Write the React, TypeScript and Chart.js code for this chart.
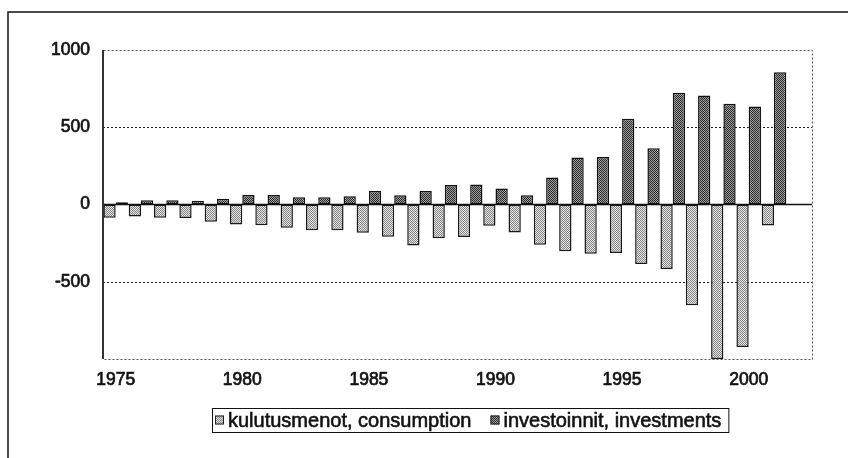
import React, { useEffect, useRef } from "react";
import { Chart, registerables } from "chart.js";

Chart.register(...registerables);

const years: string[] = [
  "1975", "1976", "1977", "1978", "1979", "1980", "1981", "1982", "1983", "1984",
  "1985", "1986", "1987", "1988", "1989", "1990", "1991", "1992", "1993", "1994",
  "1995", "1996", "1997", "1998", "1999", "2000", "2001", "2002",
];

const consumption: (number | null)[] = [
  -85, -78, -85, -87, -112, -130, -135, -150, -166, -166,
  -183, -209, -265, -218, -211, -138, -181, -260, -303, -318,
  -314, -385, -418, -652, -1000, -923, -136, null,
];

const investments: (number | null)[] = [
  15, 28, 28, 24, 38, 62, 62, 47, 47, 53,
  87, 60, 87, 126, 130, 104, 60, 175, 304, 308,
  555, 364, 723, 706, 652, 635, 856, null,
];

const yTickValues: number[] = [1000, 500, 0, -500];
const yTickLabels: string[] = ["1000", "500", "0", "-500"];
const seriesNames: string[] = ["kulutusmenot, consumption", "investoinnit, investments"];
const FONT = "'Liberation Sans', Arial, sans-serif";

function makePattern(bg: string, fg: string): CanvasPattern | string {
  const c = document.createElement("canvas");
  c.width = 2;
  c.height = 2;
  const g = c.getContext("2d");
  if (!g) return bg;
  g.fillStyle = bg;
  g.fillRect(0, 0, 2, 2);
  g.fillStyle = fg;
  g.fillRect(0, 0, 1, 1);
  g.fillRect(1, 1, 1, 1);
  const p = g.createPattern(c, "repeat");
  return p || bg;
}

export default function App() {
  const ref = useRef<HTMLCanvasElement | null>(null);

  useEffect(() => {
    const canvas = ref.current;
    if (!canvas) return;
    const consFill = makePattern("#e4e4e4", "#858585");
    const invFill = makePattern("#a0a0a0", "#2a2a2a");

    const framePlugin = {
      id: "frame",
      beforeDraw(chart: any) {
        const ctx = chart.ctx;
        ctx.save();
        ctx.fillStyle = "#ffffff";
        ctx.fillRect(0, 0, chart.width, chart.height);
        ctx.strokeStyle = "#111";
        ctx.lineWidth = 1.5;
        ctx.beginPath();
        ctx.moveTo(8, chart.height);
        ctx.lineTo(8, 12);
        ctx.lineTo(chart.width, 12);
        ctx.stroke();
        ctx.restore();
      },
      beforeDatasetsDraw(chart: any) {
        const ctx = chart.ctx;
        const a = chart.chartArea;
        const y = chart.scales.y;
        ctx.save();
        ctx.setLineDash([2, 2]);
        ctx.lineWidth = 1;
        ctx.strokeStyle = "#555";
        ctx.strokeRect(a.left + 0.5, a.top + 0.5, a.right - a.left, a.bottom - a.top);
        ctx.strokeStyle = "#222";
        [500, -500].forEach((v) => {
          const py = Math.round(y.getPixelForValue(v)) + 0.5;
          ctx.beginPath();
          ctx.moveTo(a.left, py);
          ctx.lineTo(a.right, py);
          ctx.stroke();
        });
        ctx.restore();
      },
      afterDatasetsDraw(chart: any) {
        const ctx = chart.ctx;
        const a = chart.chartArea;
        const y = chart.scales.y;
        ctx.save();
        ctx.strokeStyle = "#111";
        ctx.lineWidth = 1.5;
        const py = y.getPixelForValue(0);
        ctx.beginPath();
        ctx.moveTo(a.left, py);
        ctx.lineTo(a.right, py);
        ctx.stroke();
        ctx.lineWidth = 2;
        ctx.strokeStyle = "#333";
        ctx.beginPath();
        ctx.moveTo(a.left, a.top);
        ctx.lineTo(a.left, a.bottom);
        ctx.stroke();
        ctx.restore();
      },
      afterDraw(chart: any) {
        const ctx = chart.ctx;
        ctx.save();
        ctx.font = `20px ${FONT}`;
        ctx.textBaseline = "middle";
        const fills = [consFill, invFill];
        const left = 212;
        const top = 408;
        const h = 24;
        const box = 9;
        const gapIcon = 4;
        const gapItem = 19;
        let x = left + 3;
        const cy = top + h / 2;
        seriesNames.forEach((name, i) => {
          ctx.fillStyle = fills[i];
          ctx.fillRect(x, cy - box / 2, box, box);
          ctx.strokeStyle = "#222";
          ctx.lineWidth = 1;
          ctx.strokeRect(x + 0.5, cy - box / 2 + 0.5, box - 1, box - 1);
          x += box + gapIcon;
          ctx.fillStyle = "#111";
          ctx.strokeStyle = "#111";
          ctx.lineWidth = 0.6;
          ctx.fillText(name, x, cy + 1);
          ctx.strokeText(name, x, cy + 1);
          x += ctx.measureText(name).width + gapItem;
        });
        const right = x - gapItem + 7;
        ctx.strokeStyle = "#111";
        ctx.lineWidth = 1;
        ctx.strokeRect(left + 0.5, top + 0.5, right - left, h);
        ctx.restore();
      },
    };

    const chart = new Chart(canvas, {
      type: "bar",
      data: {
        labels: years,
        datasets: [
          {
            label: seriesNames[0],
            data: consumption,
            backgroundColor: consFill as any,
            borderColor: "#1a1a1a",
            borderWidth: 1.5,
            borderSkipped: false,
            categoryPercentage: 0.97,
            barPercentage: 1.0,
          },
          {
            label: seriesNames[1],
            data: investments,
            backgroundColor: invFill as any,
            borderColor: "#111",
            borderWidth: 1.5,
            borderSkipped: false,
            categoryPercentage: 0.97,
            barPercentage: 1.0,
          },
        ],
      },
      options: {
        animation: false,
        responsive: false,
        layout: { padding: { left: 0, right: 36, top: 50, bottom: 0 } },
        plugins: {
          legend: { display: false },
          tooltip: { enabled: false },
        },
        scales: {
          x: {
            grid: { display: false, drawTicks: false },
            border: { display: false },
            ticks: {
              autoSkip: false,
              maxRotation: 0,
              minRotation: 0,
              padding: 11,
              color: "#111",
              textStrokeColor: "#111",
              textStrokeWidth: 0.7,
              font: { family: FONT, size: 17.5 },
              callback: (_v: any, i: number) => (Number(years[i]) % 5 === 0 ? years[i] : ""),
            },
            afterFit: (s: any) => {
              s.height = 99;
            },
          },
          y: {
            min: -1000,
            max: 1000,
            grid: { display: false, drawTicks: false },
            border: { display: false },
            ticks: {
              stepSize: 500,
              padding: 13,
              color: "#111",
              textStrokeColor: "#111",
              textStrokeWidth: 0.7,
              font: { family: FONT, size: 17.5 },
              callback: (v: any) => {
                const k = yTickValues.indexOf(Number(v));
                return k >= 0 ? yTickLabels[k] : "";
              },
            },
            afterFit: (s: any) => {
              s.width = 103;
            },
          },
        },
      },
      plugins: [framePlugin],
    });

    return () => chart.destroy();
  }, []);

  return (
    <div style={{ position: "absolute", left: 0, top: 0, width: 848, height: 458 }}>
      <canvas ref={ref} width={848} height={458} style={{ width: 848, height: 458 }} />
    </div>
  );
}
